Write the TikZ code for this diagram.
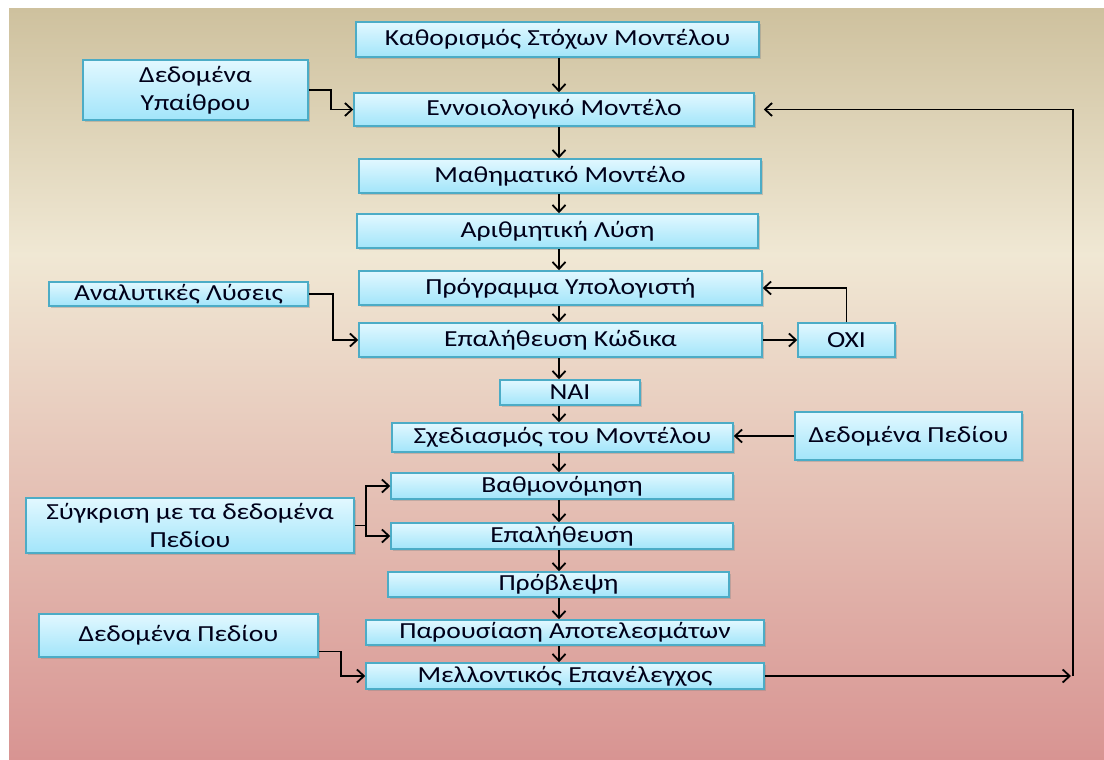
\documentclass[tikz,border=0pt]{standalone}
\usepackage{fontspec}
\setmainfont{Carlito}[FakeStretch=1.2]
\usepackage{xcolor}
\usetikzlibrary{positioning, shadows, arrows.meta}

\definecolor{bgtop}{RGB}{206,193,158}
\definecolor{bgmid}{RGB}{240,232,212}
\definecolor{bgbot}{RGB}{216,148,146}
\definecolor{boxtop}{RGB}{226,248,255}
\definecolor{boxbot}{RGB}{162,229,250}
\definecolor{boxline}{RGB}{76,172,198}

\begin{document}
\begin{tikzpicture}[x=1pt,y=-1pt,
  stage/.style={draw=boxline, line width=1.5pt, top color=boxtop, bottom color=boxbot,
    drop shadow={shadow xshift=1.5pt, shadow yshift=-2pt, opacity=0.35},
    inner sep=0pt, align=center, text=black!90!blue, font=\fontsize{23}{28}\selectfont},
  link/.style={-{Straight Barb[length=7pt,width=13pt,line width=1.8pt]}, line width=1.8pt}]
  \useasboundingbox (0,0) rectangle (1104,760);
  % background
  \fill[white] (0,0) rectangle (1104,760);
  \shade[top color=bgtop, bottom color=bgmid] (9,9) rectangle (1104,255);
  \shade[top color=bgmid, bottom color=bgbot] (9,254) rectangle (1104,760);

  % main chain
  \node[stage, minimum width=403pt, minimum height=35pt] (goal) at (557.5,39.5) {Καθορισμός Στόχων Μοντέλου};
  \node[stage, minimum width=400pt, minimum height=33pt] (concept) at (554,109.5) {Εννοιολογικό Μοντέλο};
  \node[stage, minimum width=402pt, minimum height=34pt] (math) at (560,176) {Μαθηματικό Μοντέλο};
  \node[stage, minimum width=401pt, minimum height=34pt] (numer) at (557.5,231) {Αριθμητική Λύση};
  \node[stage, minimum width=403pt, minimum height=34pt] (prog) at (560.5,288) {Πρόγραμμα Υπολογιστή};
  \node[stage, minimum width=403pt, minimum height=34pt] (codecheck) at (560.5,340) {Επαλήθευση Κώδικα};
  \node[stage, minimum width=97pt, minimum height=34pt] (no) at (846.5,340) {ΟΧΙ};
  \node[stage, minimum width=140pt, minimum height=25pt] (yes) at (570,392.5) {ΝΑΙ};
  \node[stage, minimum width=341pt, minimum height=29pt] (design) at (562.5,437.5) {Σχεδιασμός του Μοντέλου};
  \node[stage, minimum width=342pt, minimum height=26pt] (calib) at (562,486) {Βαθμονόμηση};
  \node[stage, minimum width=342pt, minimum height=26pt] (verif) at (562,536) {Επαλήθευση};
  \node[stage, minimum width=341pt, minimum height=25pt] (predict) at (558.5,584.5) {Πρόβλεψη};
  \node[stage, minimum width=398pt, minimum height=25pt] (present) at (565,632.5) {Παρουσίαση Αποτελεσμάτων};
  \node[stage, minimum width=398pt, minimum height=26pt] (future) at (565,676) {Μελλοντικός Επανέλεγχος};

  % side inputs
  \node[stage, minimum width=225pt, minimum height=60pt] (outdoor) at (195.5,90) {Δεδομένα\\Υπαίθρου};
  \node[stage, minimum width=259pt, minimum height=24pt] (analytic) at (178.5,294) {Αναλυτικές Λύσεις};
  \node[stage, minimum width=227pt, minimum height=48pt] (fieldR) at (908.5,436) {Δεδομένα Πεδίου};
  \node[stage, minimum width=328pt, minimum height=55pt] (compare) at (190,525.5) {Σύγκριση  με τα δεδομένα\\Πεδίου};
  \node[stage, minimum width=279pt, minimum height=43pt] (fieldL) at (178.5,635.5) {Δεδομένα Πεδίου};

  % arrows down the chain
  \coordinate (spine) at (559,0);
  \foreach \a/\b in {goal/concept, concept/math, math/numer, numer/prog, prog/codecheck,
      codecheck/yes, yes/design, design/calib, calib/verif, verif/predict, predict/present, present/future}
    \draw[link] (\a.south -| spine) -- (\b.north -| spine);

  \draw[link] (outdoor.east) -- ++(22,0) |- (concept.west);
  \draw[link] (analytic.east) -- ++(24,0) |- (codecheck.west);
  \draw[link] (codecheck.east) -- (no.west);
  \draw[link] (no.north) |- (prog.east);
  \draw[link] (fieldR.west) -- (fieldR.west -| design.east);
  \draw[link] (compare.east) -- ++(11,0) |- (calib.west);
  \draw[link] (compare.east) -- ++(11,0) |- (verif.west);
  \draw[link] ([yshift=-16pt]fieldL.east) -- ++(22,0) |- (future.west);

  % feedback loop
  \coordinate (loop) at (1073,676);
  \draw[link, shorten >=2pt] (future.east) -- (loop);
  \draw[link, shorten >=9pt] (loop) |- (concept.east);
\end{tikzpicture}
\end{document}
